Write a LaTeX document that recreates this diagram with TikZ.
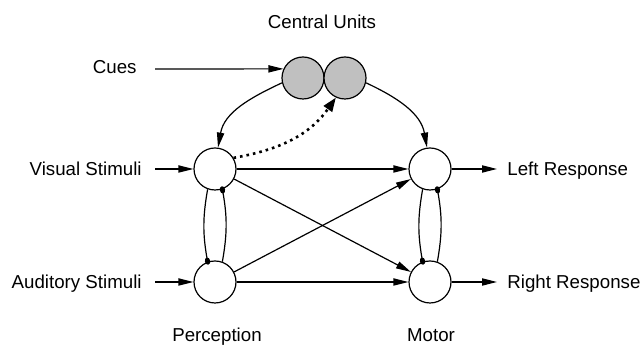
\documentclass[tikz,border=0pt]{standalone}
\usepackage{fontspec}
\setmainfont{Liberation Sans}
\usetikzlibrary{arrows.meta}
\definecolor{UnitGray}{HTML}{C0C0C0}
\tikzset{
  unit/.style={circle, draw=black, line width=0.6pt, fill=white, minimum size=21pt, inner sep=0pt},
  central/.style={unit, fill=UnitGray},
  label/.style={inner sep=0pt, text depth=0pt, font=\fontsize{9.35}{11}\selectfont},
  arrow/.style={-{Triangle[length=7.5pt, width=3.6pt]}, line width=0.6pt},
  dotarrow/.style={-{Triangle[length=7pt, width=5pt]}, line width=1.3pt, dash pattern=on 1.3pt off 2pt},
  knob/.style={-{Circle[length=3.6pt, width=2.6pt]}, line width=0.6pt, shorten >=-1.5pt}
}
\begin{document}
\begin{tikzpicture}[x=0.5pt, y=0.5pt]
\useasboundingbox (0,0) rectangle (643,346);
% units
\node[central] (c1) at (303,268) {};
\node[central] (c2) at (345,268) {};
\node[unit] (pvis) at (215,177) {};
\node[unit] (paud) at (215,64) {};
\node[unit] (mleft) at (430,177) {};
\node[unit] (mright) at (430,64) {};
% labels
\node[label] (central) at (322,324) {Central Units};
\node[label, anchor=east] (cues) at (137,279) {Cues};
\node[label, anchor=east] (vislbl) at (142,177) {Visual Stimuli};
\node[label, anchor=east] (audlbl) at (142,64) {Auditory Stimuli};
\node[label, anchor=west] (lresp) at (507,177) {Left Response};
\node[label, anchor=west] (rresp) at (507,64) {Right Response};
\node[label] (perc) at (217,11) {Perception};
\node[label] (motor) at (431,11) {Motor};
% free ends of the input and output arrows
\coordinate (cuesin) at (155,277);
\coordinate (visin) at (155,177);
\coordinate (audin) at (155,64);
\coordinate (lout) at (497,177);
\coordinate (rout) at (497,64);
% inputs and outputs
\draw[arrow] (cuesin) -- (c1.155);
\draw[arrow] (visin) -- (pvis);
\draw[arrow] (audin) -- (paud);
\draw[arrow] (mleft) -- (lout);
\draw[arrow] (mright) -- (rout);
% central units
\draw[arrow] (c1.193) to[out=205, in=80] (pvis.82);
\draw[arrow] (c2.-13) to[out=-25, in=100] (mleft.98);
\draw[dotarrow] (pvis.31) to[out=10, in=235] (c2.245);
% perception to motor
\draw[arrow] (pvis) -- (mleft);
\draw[arrow] (paud) -- (mright);
\draw[arrow] (pvis) -- (mright);
\draw[arrow] (paud) -- (mleft);
% lateral links
\draw[knob] (pvis.250) to[bend right=10] (paud.110);
\draw[knob] (paud.70) to[bend right=10] (pvis.290);
\draw[knob] (mleft.250) to[bend right=10] (mright.110);
\draw[knob] (mright.70) to[bend right=10] (mleft.290);
\end{tikzpicture}
\end{document}
